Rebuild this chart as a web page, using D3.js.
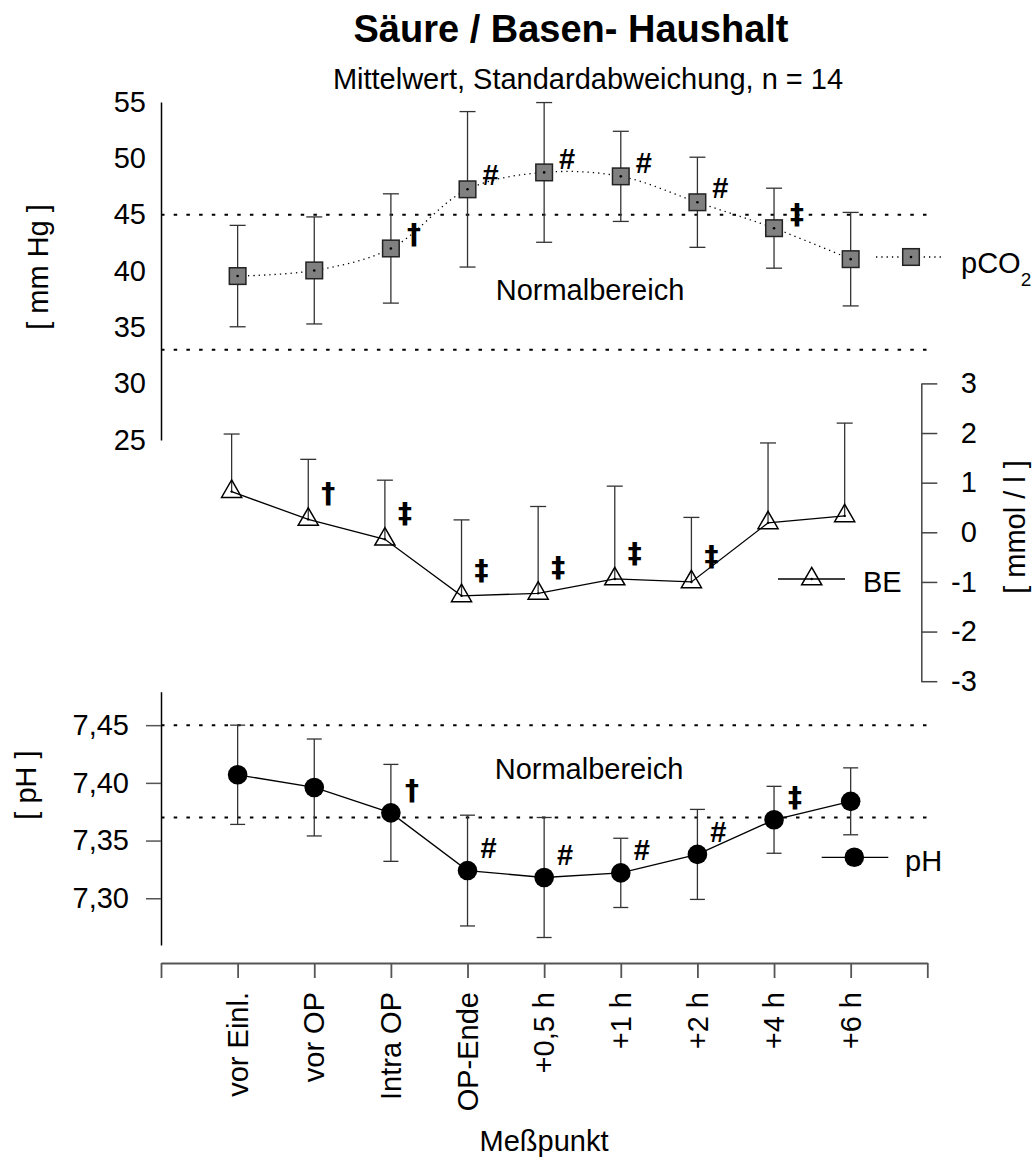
<!DOCTYPE html>
<html><head><meta charset="utf-8">
<script src="https://cdn.jsdelivr.net/npm/d3@7/dist/d3.min.js"></script>
<style>
body{margin:0;background:#fff;}
svg text{font-family:"Liberation Sans",Arial,Helvetica,sans-serif;fill:#000;}
</style></head><body>
<svg id="c" width="1036" height="1164"></svg>
<script>
// ---------- data ----------
const categories = ["vor Einl.","vor OP","Intra OP","OP-Ende","+0,5 h","+1 h","+2 h","+4 h","+6 h"];
const pco2Mean = [39.55, 40.05, 42.0, 47.25, 48.75, 48.4, 46.1, 43.8, 41.05];
const pco2Sd   = [4.5, 4.75, 4.85, 6.9, 6.2, 4.0, 4.0, 3.55, 4.15];
const pco2Sig  = ["", "", "†", "#", "#", "#", "#", "‡", ""];
const beMean = [0.82, 0.26, -0.14, -1.28, -1.23, -0.94, -1.0, 0.19, 0.33];
const beSd   = [1.16, 1.21, 1.19, 1.53, 1.75, 1.87, 1.30, 1.61, 1.87];
const beSig  = ["", "†", "‡", "‡", "‡", "‡", "‡", "", ""];
const phMean = [7.407, 7.396, 7.374, 7.324, 7.318, 7.322, 7.338, 7.368, 7.384];
const phSd   = [0.043, 0.042, 0.042, 0.048, 0.052, 0.030, 0.039, 0.029, 0.029];
const phSig  = ["", "", "†", "#", "#", "#", "#", "‡", ""];
const pco2Ticks = [25, 30, 35, 40, 45, 50, 55];
const beTicks = [-3, -2, -1, 0, 1, 2, 3];
const phTicks = [7.30, 7.35, 7.40, 7.45];
const pco2Normal = [33, 45];
const phNormal = [7.37, 7.45];
const title = "Säure / Basen- Haushalt";
const subtitle = "Mittelwert, Standardabweichung, n = 14";
const xTitle = "Meßpunkt";

// ---------- scales ----------
const svg = d3.select("#c");
const x = d3.scaleLinear().domain([0, 10]).range([161, 927.3]);
const xBE = d3.scaleLinear().domain([0, 10]).range([155, 921.3]);
const yP = d3.scaleLinear().domain([25, 55]).range([440, 102]);
const yB = d3.scaleLinear().domain([-3, 3]).range([681.2, 383.4]);
const yH = d3.scaleLinear().domain([7.2595, 7.479]).range([945, 691.7]);

const idx = categories.map((c, i) => i + 1);
const FS = 29;
const FONT = "Liberation Sans, Arial, sans-serif";

function sigText(sel, s) {
  sel.attr("text-anchor", "middle").attr("dy", "0.35em").style("font-weight", "bold")
    .style("font-family", d => s(d) === "#" ? FONT : "DejaVu Sans, sans-serif")
    .style("font-size", d => s(d) === "#" ? "29px" : "28px")
    .text(s);
}

// title
svg.append("text").attr("x", 571).attr("y", 42).attr("text-anchor", "middle")
  .style("font-size", "38px").style("font-weight", "bold").text(title);
svg.append("text").attr("x", 588).attr("y", 89).attr("text-anchor", "middle")
  .style("font-size", FS + "px").text(subtitle);

// ---------- pCO2 panel ----------
const gP = svg.append("g");
gP.selectAll("line.norm").data(pco2Normal).join("line")
  .attr("x1", x(0)).attr("x2", x(10)).attr("y1", d => yP(d)).attr("y2", d => yP(d))
  .attr("stroke", "#000").attr("stroke-width", 2).attr("stroke-dasharray", "3.5,9.2");
gP.append("text").attr("x", 590).attr("y", 300).attr("text-anchor", "middle")
  .style("font-size", FS + "px").text("Normalbereich");
const axP = gP.append("g").attr("transform", `translate(${x(0)},0)`)
  .call(d3.axisLeft(yP).tickValues(pco2Ticks).tickFormat(d => String(d)).tickSize(0).tickSizeOuter(0).tickPadding(15));
axP.select(".domain").attr("stroke", "#000").attr("stroke-width", 1.5);
axP.selectAll("text").style("font-size", FS + "px").style("font-family", FONT);
svg.append("text").attr("transform", "translate(48,267) rotate(-90)").attr("text-anchor", "middle")
  .style("font-size", FS + "px").text("[ mm Hg ]");
const pEb = gP.selectAll("g.eb").data(idx).join("g").attr("stroke", "#333").attr("stroke-width", 1.3);
pEb.append("line").attr("x1", i => x(i)).attr("x2", i => x(i))
  .attr("y1", i => yP(pco2Mean[i-1] + pco2Sd[i-1])).attr("y2", i => yP(pco2Mean[i-1] - pco2Sd[i-1]));
pEb.append("line").attr("x1", i => x(i) - 8).attr("x2", i => x(i) + 8)
  .attr("y1", i => yP(pco2Mean[i-1] + pco2Sd[i-1])).attr("y2", i => yP(pco2Mean[i-1] + pco2Sd[i-1]));
pEb.append("line").attr("x1", i => x(i) - 8).attr("x2", i => x(i) + 8)
  .attr("y1", i => yP(pco2Mean[i-1] - pco2Sd[i-1])).attr("y2", i => yP(pco2Mean[i-1] - pco2Sd[i-1]));
gP.append("path").datum(idx)
  .attr("d", d3.line().x(i => x(i)).y(i => yP(pco2Mean[i-1])).curve(d3.curveCatmullRom.alpha(0.5)))
  .attr("fill", "none").attr("stroke", "#000").attr("stroke-width", 1.3).attr("stroke-dasharray", "1.3,4");
function square(g, cx, cy) {
  g.append("rect").attr("x", cx - 8.3).attr("y", cy - 8.3).attr("width", 16.6).attr("height", 16.6)
    .attr("fill", "#808080").attr("stroke", "#222").attr("stroke-width", 1.5);
  g.append("circle").attr("cx", cx).attr("cy", cy).attr("r", 1.3).attr("fill", "#000");
}
idx.forEach(i => square(gP, x(i), yP(pco2Mean[i-1])));
gP.selectAll("text.sig").data(idx.filter(i => pco2Sig[i-1])).join("text")
  .attr("x", i => x(i) + 23).attr("y", i => yP(pco2Mean[i-1]) - 14)
  .call(sigText, i => pco2Sig[i-1]);
gP.append("line").attr("x1", 876).attr("x2", 944).attr("y1", 257).attr("y2", 257)
  .attr("stroke", "#000").attr("stroke-width", 1.3).attr("stroke-dasharray", "1.3,4");
square(gP, 911, 257);
const lp = gP.append("text").attr("x", 961).attr("y", 273).style("font-size", FS + "px");
lp.append("tspan").text("pCO");
lp.append("tspan").attr("dy", 13).style("font-size", "19px").text("2");

// ---------- BE panel ----------
const gB = svg.append("g");
const axB = gB.append("g").attr("transform", `translate(${xBE(10)},0)`)
  .call(d3.axisRight(yB).tickValues(beTicks).tickFormat(d => String(d)).tickSize(16).tickSizeOuter(0).tickPadding(0));
axB.selectAll("path,line").attr("stroke", "#444").attr("stroke-width", 1.5);
axB.selectAll("text").attr("x", 55.5).attr("text-anchor", "end").style("font-size", FS + "px")
  .style("font-family", FONT);
svg.append("text").attr("transform", "translate(1025,527) rotate(-90)").attr("text-anchor", "middle")
  .style("font-size", FS + "px").text("[ mmol / l ]");
const bEb = gB.selectAll("g.eb").data(idx).join("g").attr("stroke", "#333").attr("stroke-width", 1.3);
bEb.append("line").attr("x1", i => xBE(i)).attr("x2", i => xBE(i))
  .attr("y1", i => yB(beMean[i-1] + beSd[i-1])).attr("y2", i => yB(beMean[i-1]));
bEb.append("line").attr("x1", i => xBE(i) - 8).attr("x2", i => xBE(i) + 8)
  .attr("y1", i => yB(beMean[i-1] + beSd[i-1])).attr("y2", i => yB(beMean[i-1] + beSd[i-1]));
gB.append("path").datum(idx)
  .attr("d", d3.line().x(i => xBE(i)).y(i => yB(beMean[i-1])))
  .attr("fill", "none").attr("stroke", "#000").attr("stroke-width", 1.3);
const tri = d3.symbol(d3.symbolTriangle, 175);
function triangle(g, cx, cy) {
  g.append("path").attr("d", tri()).attr("transform", `translate(${cx},${cy})`)
    .attr("fill", "none").attr("stroke", "#000").attr("stroke-width", 1.5);
  g.append("circle").attr("cx", cx).attr("cy", cy).attr("r", 1.2).attr("fill", "#000");
}
idx.forEach(i => triangle(gB, xBE(i), yB(beMean[i-1])));
gB.selectAll("text.sig").data(idx.filter(i => beSig[i-1])).join("text")
  .attr("x", i => xBE(i) + 20).attr("y", i => yB(beMean[i-1]) - 26)
  .call(sigText, i => beSig[i-1]);
gB.append("line").attr("x1", 778).attr("x2", 845).attr("y1", 579).attr("y2", 579)
  .attr("stroke", "#000").attr("stroke-width", 1.3);
triangle(gB, 811.7, 579);
gB.append("text").attr("x", 863).attr("y", 592).style("font-size", FS + "px").text("BE");

// ---------- pH panel ----------
const gH = svg.append("g");
gH.selectAll("line.norm").data(phNormal).join("line")
  .attr("x1", x(0)).attr("x2", x(10)).attr("y1", d => yH(d)).attr("y2", d => yH(d))
  .attr("stroke", "#000").attr("stroke-width", 2).attr("stroke-dasharray", "3.5,9.2");
gH.append("text").attr("x", 589).attr("y", 779).attr("text-anchor", "middle")
  .style("font-size", FS + "px").text("Normalbereich");
const fmt = d => d3.format(".2f")(d).replace(".", ",");
const axH = gH.append("g").attr("transform", `translate(${x(0)},0)`)
  .call(d3.axisLeft(yH).tickValues(phTicks).tickFormat(fmt).tickSize(15).tickSizeOuter(0).tickPadding(17));
axH.select(".domain").attr("stroke", "#000").attr("stroke-width", 1.5);
axH.selectAll(".tick line").attr("stroke", "#555").attr("stroke-width", 1.5);
axH.selectAll("text").style("font-size", FS + "px").style("font-family", FONT);
svg.append("text").attr("transform", "translate(36,785) rotate(-90)").attr("text-anchor", "middle")
  .style("font-size", FS + "px").text("[ pH ]");
const hEb = gH.selectAll("g.eb").data(idx).join("g").attr("stroke", "#333").attr("stroke-width", 1.3);
hEb.append("line").attr("x1", i => x(i)).attr("x2", i => x(i))
  .attr("y1", i => yH(phMean[i-1] + phSd[i-1])).attr("y2", i => yH(phMean[i-1] - phSd[i-1]));
hEb.append("line").attr("x1", i => x(i) - 7.5).attr("x2", i => x(i) + 7.5)
  .attr("y1", i => yH(phMean[i-1] + phSd[i-1])).attr("y2", i => yH(phMean[i-1] + phSd[i-1]));
hEb.append("line").attr("x1", i => x(i) - 7.5).attr("x2", i => x(i) + 7.5)
  .attr("y1", i => yH(phMean[i-1] - phSd[i-1])).attr("y2", i => yH(phMean[i-1] - phSd[i-1]));
gH.append("path").datum(idx)
  .attr("d", d3.line().x(i => x(i)).y(i => yH(phMean[i-1])))
  .attr("fill", "none").attr("stroke", "#000").attr("stroke-width", 1.3);
gH.selectAll("circle.pt").data(idx).join("circle")
  .attr("cx", i => x(i)).attr("cy", i => yH(phMean[i-1])).attr("r", 9.8).attr("fill", "#000");
gH.selectAll("text.sig").data(idx.filter(i => phSig[i-1])).join("text")
  .attr("x", i => x(i) + 21).attr("y", i => yH(phMean[i-1]) - 23)
  .call(sigText, i => phSig[i-1]);
gH.append("line").attr("x1", 821.7).attr("x2", 888.3).attr("y1", 857.3).attr("y2", 857.3)
  .attr("stroke", "#000").attr("stroke-width", 1.3);
gH.append("circle").attr("cx", 854.3).attr("cy", 857.3).attr("r", 9.8).attr("fill", "#000");
gH.append("text").attr("x", 905).attr("y", 871).style("font-size", FS + "px").text("pH");

// ---------- x axis ----------
const axX = svg.append("g").attr("transform", "translate(0,963)")
  .call(d3.axisBottom(x).tickValues(d3.range(11)).tickFormat("").tickSize(15).tickSizeOuter(0));
axX.selectAll("path,line").attr("stroke", "#555").attr("stroke-width", 1.8);
svg.selectAll("text.xl").data(idx).join("text")
  .attr("transform", i => `translate(${x(i)},992) rotate(-90)`)
  .attr("text-anchor", "end").attr("dy", "0.35em").style("font-size", FS + "px")
  .text(i => categories[i-1]);
svg.append("text").attr("x", 544).attr("y", 1151).attr("text-anchor", "middle")
  .style("font-size", FS + "px").text(xTitle);
</script>
</body></html>
